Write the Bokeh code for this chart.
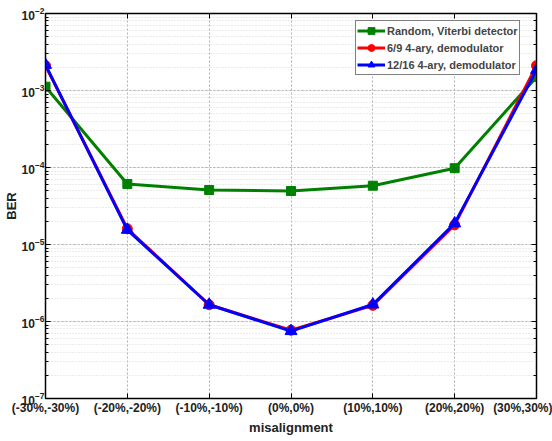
from bokeh.plotting import figure
from bokeh.models import FixedTicker, LogAxis, LinearAxis, Range1d, Legend, LegendItem, CustomJSTickFormatter
from bokeh.embed import file_html
from bokeh.resources import INLINE

categories = ["(-30%,-30%)", "(-20%,-20%)", "(-10%,-10%)", "(0%,0%)", "(10%,10%)", "(20%,20%)", "(30%,30%)"]
viterbi = [1.12e-3, 6.1e-5, 5.1e-5, 4.95e-5, 5.8e-5, 9.8e-5, 1.5e-3]
demod_69 = [2.1e-3, 1.6e-5, 1.65e-6, 7.7e-7, 1.62e-6, 1.8e-5, 2.1e-3]
demod_1216 = [2.15e-3, 1.55e-5, 1.65e-6, 7.5e-7, 1.66e-6, 1.88e-5, 1.85e-3]

x = list(range(len(categories)))

FONT = "Liberation Sans"

p = figure(width=552, height=441, y_axis_type="log", output_backend="svg",
           toolbar_location=None, x_range=Range1d(0, 6), y_range=Range1d(1e-7, 1e-2),
           min_border_left=0, min_border_right=16, min_border_top=13, min_border_bottom=43)
p.background_fill_color = "white"
p.border_fill_color = "white"
p.outline_line_color = "black"
p.outline_line_width = 1.5

# grids
p.xgrid.grid_line_color = "#b0b0b0"
p.xgrid.grid_line_dash = "2 2"
p.ygrid.grid_line_color = "#b0b0b0"
p.ygrid.grid_line_dash = "2 2"
p.ygrid.minor_grid_line_color = "#d8d8d8"
p.ygrid.minor_grid_line_dash = "1 2"

# x axis
p.xaxis.ticker = FixedTicker(ticks=x)
p.xaxis.major_label_overrides = {i: c for i, c in enumerate(categories)}
p.xaxis.axis_label = "misalignment"
p.yaxis.axis_label = "BER"
for ax in (p.xaxis[0], p.yaxis[0]):
    ax.axis_label_text_font = FONT
    ax.axis_label_text_font_style = "bold"
    ax.axis_label_text_font_size = "13px"
    ax.axis_label_text_color = "#222222"
    ax.major_label_text_font = FONT
    ax.major_label_text_font_style = "bold"
    ax.major_label_text_font_size = "12px"
    ax.major_label_text_color = "#222222"
    ax.major_tick_out = 0
    ax.major_tick_in = 5
    ax.minor_tick_out = 0
    ax.minor_tick_in = 3
    ax.axis_line_color = "black"
    ax.major_tick_line_color = "black"
    ax.minor_tick_line_color = "black"
p.xaxis.axis_label_standoff = 2
p.yaxis.axis_label_standoff = 0
p.xaxis.major_label_standoff = 2
p.yaxis.major_label_standoff = 1

blank = CustomJSTickFormatter(code="return '';")
right = LogAxis(formatter=blank, major_tick_out=0, major_tick_in=5,
                minor_tick_out=0, minor_tick_in=3, major_label_standoff=0)
p.add_layout(right, "right")
top = LinearAxis(ticker=FixedTicker(ticks=x), formatter=CustomJSTickFormatter(code="return '';"),
                 major_tick_out=0, major_tick_in=5, minor_tick_out=0, minor_tick_in=0,
                 major_label_standoff=0)
p.add_layout(top, "above")

r1l = p.line(x, viterbi, line_color="#008000", line_width=3)
r1m = p.scatter(x, viterbi, marker="square", size=9, fill_color="#008000", line_color="#008000")
r2l = p.line(x, demod_69, line_color="#ff0000", line_width=3)
r2m = p.scatter(x, demod_69, marker="circle", size=10, fill_color="#ff0000", line_color="#ff0000")
r3l = p.line(x, demod_1216, line_color="#0000ff", line_width=3)
r3m = p.scatter(x, demod_1216, marker="triangle", size=12, fill_color="#0000ff", line_color="#0000ff")

legend = Legend(items=[
    LegendItem(label="Random, Viterbi detector", renderers=[r1l, r1m]),
    LegendItem(label="6/9 4-ary, demodulator", renderers=[r2l, r2m]),
    LegendItem(label="12/16 4-ary, demodulator", renderers=[r3l, r3m]),
], location=(310, 323))
legend.label_text_font = FONT
legend.label_text_font_style = "bold"
legend.label_text_font_size = "11px"
legend.label_standoff = 2
legend.glyph_width = 28
legend.glyph_height = 17
legend.spacing = 0
legend.padding = 1
legend.margin = 0
legend.label_height = 17
legend.border_line_color = "black"
legend.border_line_width = 1
legend.background_fill_alpha = 1
p.add_layout(legend)

open("out.html", "w").write(file_html(p, INLINE))
